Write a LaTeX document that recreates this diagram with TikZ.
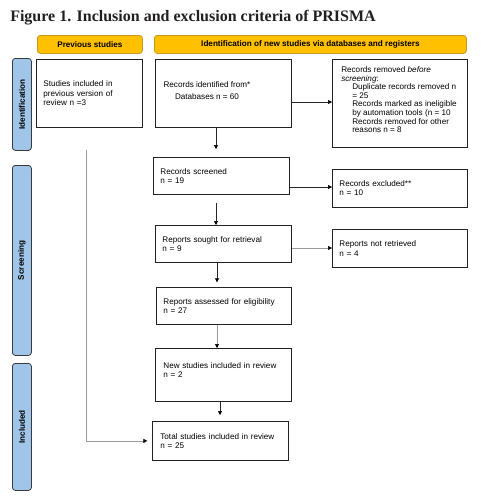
\documentclass[tikz,border=0pt]{standalone}
\usepackage{fontspec}
\setmainfont{Liberation Sans}
\newfontfamily\titlefont{Liberation Serif}
\usetikzlibrary{arrows.meta}
\definecolor{hdrfill}{HTML}{FFC000}
\definecolor{hdrdraw}{HTML}{C8981E}
\definecolor{sidefill}{HTML}{9FC5E8}
\definecolor{sidedraw}{HTML}{3A3A3A}
\definecolor{boxdraw}{HTML}{222222}
\definecolor{linegray}{HTML}{9A9A9A}
\definecolor{titlecol}{HTML}{231F20}
\begin{document}
\begin{tikzpicture}[x=0.75pt,y=-0.75pt,
  sz/.style 2 args={minimum width=#1*0.75pt, minimum height=#2*0.75pt},
  hdr/.style={draw=hdrdraw, fill=hdrfill, rounded corners=2.2pt, line width=0.6pt,
    font=\fontsize{6.1}{7}\selectfont\bfseries, inner sep=0pt, anchor=north west},
  side/.style={draw=sidedraw, fill=sidefill, rounded corners=2.2pt, line width=0.6pt,
    anchor=north west, inner sep=0pt},
  sidelabel/.style={rotate=90, inner sep=0pt, font=\fontsize{6.1}{7}\selectfont\bfseries},
  box/.style n args={3}{draw=boxdraw, line width=0.6pt, anchor=north west,
    inner xsep=#3*0.75pt, inner ysep=0pt, text width=(#1-2*#3)*0.75pt,
    minimum height=#2*0.75pt, align=left, font=\fontsize{6.1}{7}\selectfont},
  plainbox/.style={draw=boxdraw, line width=0.6pt, anchor=north west, inner sep=0pt},
  conn/.style={draw=black!85, line width=0.5pt, -{Triangle[length=3pt,width=3pt,color=black]}},
  conngray/.style={conn, draw=linegray},
]
\useasboundingbox (0,0) rectangle (483,504);

% title
\node[anchor=base west, inner sep=0pt, text=titlecol,
  font={\titlefont\bfseries\fontsize{12}{14}\selectfont}] (title) at (10,21)
  {Figure 1. Inclusion and exclusion criteria of PRISMA};

% headers
\node[hdr, sz={105}{18}] (hprev) at (37,35) {Previous studies};
\node[hdr, sz={312}{18}] (hnew) at (154,35) {Identification of new studies via databases and registers};

% side bars
\node[side, sz={19}{92}] (sident) at (12,58) {};
\node[sidelabel] (lident) at (sident.center) {Identification};
\node[side, sz={19}{190}] (sscreen) at (12,165) {};
\node[sidelabel] (lscreen) at (sscreen.center) {Screening};
\node[side, sz={19}{127}] (sincl) at (12,363) {};
\node[sidelabel] (lincl) at (sincl.center) {Included};

% boxes
\node[box={106}{68}{7}] (prev) at (36,59) {Studies included in\\previous version of\\review n =3};
\node[plainbox, sz={136}{68}] (ident) at (155,59) {};
\node[align=center, inner sep=0pt, font=\fontsize{6.1}{7}\selectfont] (identtxt) at (207,91)
  {Records identified from*\\[2pt]Databases n = 60};
\node[plainbox, sz={135}{88}] (removed) at (332,59) {};
\node[anchor=north west, align=left, inner sep=0pt, font=\fontsize{6.1}{6.43}\selectfont]
  (removedtxt) at (341,66.5) {Records removed \textit{before}\\
  \textit{screening}:\\
  \hspace*{8.25pt}Duplicate records removed n\\
  \hspace*{8.25pt}= 25\\
  \hspace*{8.25pt}Records marked as ineligible\\
  \hspace*{8.25pt}by automation tools (n = 10\\
  \hspace*{8.25pt}Records removed for other\\
  \hspace*{8.25pt}reasons n = 8};
\node[box={136}{37}{7}] (screened) at (153,157) {Records screened\\n = 19};
\node[box={135}{38}{7}] (excluded) at (332,169) {Records excluded**\\n = 10};
\node[box={136}{37}{7}] (sought) at (155,225) {Reports sought for retrieval\\n = 9};
\node[box={135}{38}{7}] (notret) at (332,229) {Reports not retrieved\\n = 4};
\node[box={135}{37}{7}] (assessed) at (156,287) {Reports assessed for eligibility\\n = 27};
\node[box={136}{53}{8}] (newst) at (155,348) {New studies included in review\\n = 2\\\mbox{}};
\node[box={136}{39}{8}] (total) at (152,421) {Total studies included in review\\n = 25};

% connector guides
\coordinate (xa) at (216,0);
\coordinate (xb) at (217,0);
\coordinate (xc) at (220,0);
\coordinate (ya) at (0,102);
\coordinate (yb) at (0,187);
\coordinate (yc) at (0,248);
\coordinate (lstart) at (86,150);

% connectors
\draw[conn, shorten >=6pt] (ident.south -| xa) -- (screened.north -| xa);
\draw[conn, shorten <=6pt] (screened.south -| xa) -- (sought.north -| xa);
\draw[conn, shorten >=3.5pt] (sought.south -| xb) -- (assessed.north -| xb);
\draw[conngray] (assessed.south -| xb) -- (newst.north -| xb);
\draw[conn, shorten >=4.5pt] (newst.south -| xc) -- (total.north -| xc);
\draw[conn] (ident.east |- ya) -- (removed.west |- ya);
\draw[conn] (screened.east |- yb) -- (excluded.west |- yb);
\draw[conngray] (sought.east |- yc) -- (notret.west |- yc);
\draw[conngray, shorten >=3.5pt] (lstart) |- (total.west);
\end{tikzpicture}
\end{document}
